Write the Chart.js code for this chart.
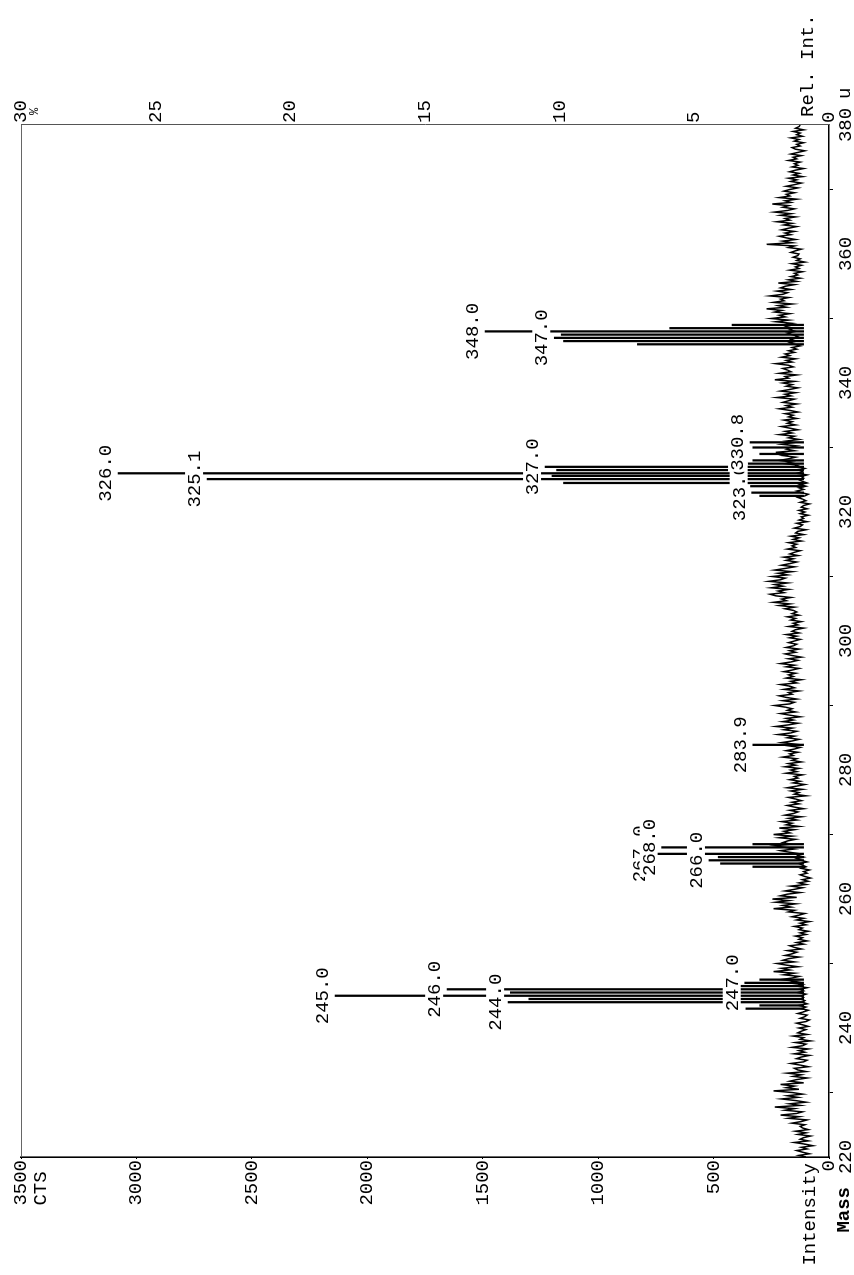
<!DOCTYPE html>
<html lang="en">
<head>
<meta charset="UTF-8">
<title>Mass spectrum</title>
<script src="https://cdn.jsdelivr.net/npm/chart.js@4.4.0/dist/chart.umd.min.js"></script>
<style>
  html, body { margin: 0; padding: 0; background: #fff; overflow: hidden; }
  /* chart is drawn landscape and turned a quarter turn to the left */
  #wrap { position: absolute; left: 0; top: 0; width: 1275px; height: 854px;
          transform-origin: 0 0; transform: translate(0, 1275px) rotate(-90deg); }
</style>
</head>
<body>
<div id="wrap"><canvas id="spec" width="1275" height="854"></canvas></div>
<script>
// baseline noise, one value every 0.25 u from 220 u (20 values per 5 u)
const massStart = 220, massStep = 0.25;
const noise = [
  100,130,85,115,140,95,120,70,105,150,90,125,110,80,135,100,145,90,115,125,
  105,160,120,95,175,130,210,140,115,190,150,235,125,170,100,145,205,135,180,115,
  160,240,130,185,150,210,110,170,140,95,155,120,180,100,135,150,90,125,165,110,
  95,140,120,85,150,105,130,90,160,115,100,145,80,125,110,155,95,135,120,100,
  130,90,115,140,100,85,125,105,95,135,110,90,120,100,130,95,115,105,125,110,
  120,100,135,110,125,95,140,115,175,140,210,160,130,195,150,240,170,205,135,185,
  225,150,200,175,130,190,160,140,180,120,150,170,110,140,95,130,115,145,100,125,
  90,130,115,150,100,125,85,140,110,160,130,105,175,150,240,165,200,145,230,175,
  245,140,210,180,125,190,150,115,165,100,130,90,115,80,105,125,95,110,85,120,
  100,115,130,95,120,140,110,135,125,170,210,150,190,235,165,200,180,145,215,160,
  240,170,195,150,215,130,185,160,205,140,175,120,190,155,135,170,110,150,180,130,
  160,120,145,175,100,150,130,165,115,180,140,105,155,125,170,135,150,115,185,140,
  165,130,190,145,175,120,160,140,200,155,170,135,185,150,125,175,145,205,160,130,
  180,150,220,165,140,195,160,230,175,135,200,155,185,125,170,210,145,180,160,190,
  235,170,150,200,140,185,215,160,175,130,195,150,170,210,140,165,120,185,155,175,
  145,195,160,130,185,150,210,165,135,175,120,160,190,145,170,130,185,155,140,175,
  150,125,170,140,185,130,160,145,110,175,135,155,120,165,145,180,130,160,140,155,
  190,150,215,170,240,185,205,165,230,255,195,220,175,250,200,235,180,260,210,190,
  245,180,220,160,235,190,150,205,170,140,185,155,195,135,170,150,125,180,145,160,
  140,175,120,155,130,165,110,145,135,100,150,125,115,140,95,130,110,120,90,125,
  105,130,95,120,110,85,125,100,115,135,105,90,120,140,110,130,100,125,95,115,
  130,110,120,95,140,115,125,105,150,135,190,160,215,175,145,200,165,230,150,185,
  170,140,205,155,185,130,175,150,215,160,190,135,170,205,145,180,160,195,140,175,
  155,190,135,170,215,160,185,140,200,175,150,225,165,190,145,210,170,135,185,160,
  200,150,235,175,190,140,215,165,180,200,155,175,230,160,185,145,205,170,190,150,
  175,140,160,125,150,170,140,165,150,135,160,180,145,170,155,185,200,160,230,175,
  250,190,215,170,235,205,270,185,220,160,240,195,210,175,255,200,180,225,165,210,
  190,150,220,140,175,125,165,135,150,115,170,130,145,120,160,105,140,125,155,135,
  130,165,145,120,175,150,270,160,200,145,185,215,165,190,150,205,175,140,195,160,
  225,170,190,145,210,165,235,180,150,200,175,245,165,190,140,215,170,185,150,195,
  170,135,185,150,120,165,140,175,115,155,130,170,145,110,160,135,150,125,175,140,
  155,120,165,135,105,145,160,125,140,110,150,130,165,115,140,125,155,110,145,130,
  125
];

// peak sticks
const peakMass = [243.0, 243.5, 244.0, 244.5, 245.0, 245.5, 246.0, 246.5, 247.0, 247.5,
                  265.0, 265.5, 266.0, 266.5, 267.0, 268.0, 268.5, 283.9,
                  322.5, 323.0, 324.0, 324.5, 325.1, 325.6, 326.0, 326.5, 327.0, 327.5, 328.0, 329.0, 330.0, 330.8,
                  346.0, 346.5, 347.0, 347.5, 348.0, 348.5, 349.0];
const peakCounts = [360, 300, 1390, 1300, 2139, 1380, 1654, 390, 365, 300,
                    330, 470, 520, 480, 768, 725, 330, 330,
                    300, 335, 340, 1150, 2694, 1200, 3079, 1180, 1230, 350, 330, 300, 330, 342,
                    830, 1150, 1190, 1160, 1490, 690, 420];
const peakFoot = 110;

// labelled peaks, drawn in this order
const labelMass = [245.0, 246.0, 244.0, 247.0, 267.0, 268.0, 266.0, 283.9, 326.0, 325.1, 327.0, 323.0, 330.8, 348.0, 347.0];
const labelText = ['245.0', '246.0', '244.0', '247.0', '267.0', '268.0', '266.0', '283.9', '326.0', '325.1', '327.0', '323.0', '330.8', '348.0', '347.0'];

const massTicks = [220, 380, 20];
const countTicks = [0, 3500, 500];
const relTicks = [0, 30, 5];

const monoFont = "'Liberation Mono', 'DejaVu Sans Mono', monospace";
Chart.defaults.font.family = monoFont;
Chart.defaults.font.size = 19;
Chart.defaults.color = '#000';

const peakLabels = {
  id: 'peakLabels',
  afterDatasetsDraw(chart) {
    const { ctx, scales: { x, y } } = chart;
    ctx.save();
    ctx.font = '19px ' + monoFont;
    ctx.textAlign = 'center';
    ctx.textBaseline = 'alphabetic';
    labelMass.forEach((m, i) => {
      const k = peakMass.indexOf(m);
      const px = x.getPixelForValue(m);
      const py = y.getPixelForValue(peakCounts[k]) - 7;
      const w = ctx.measureText(labelText[i]).width;
      ctx.fillStyle = '#fff';
      ctx.fillRect(px - w / 2 - 1, py - 15, w + 2, 18);
      ctx.fillStyle = '#000';
      ctx.fillText(labelText[i], px, py);
    });
    ctx.restore();
  }
};

const extraText = {
  id: 'extraText',
  afterDraw(chart) {
    const { ctx, chartArea: a, scales: { x, y } } = chart;
    ctx.save();
    // thin frame on the far side
    ctx.strokeStyle = '#666';
    ctx.lineWidth = 1;
    ctx.beginPath();
    ctx.moveTo(a.left, a.top + 0.5);
    ctx.lineTo(a.right, a.top + 0.5);
    ctx.stroke();

    ctx.fillStyle = '#000';
    ctx.textBaseline = 'middle';
    ctx.font = '19px ' + monoFont;
    ctx.textAlign = 'left';
    const topW = ctx.measureText(String(countTicks[1])).width;
    ctx.fillText('CTS', a.left - 3 - topW, y.getPixelForValue(countTicks[1]) + 20);
    ctx.textAlign = 'right';
    ctx.fillText('Intensity', a.left - 6, a.bottom - 19);
    ctx.font = 'bold 19px ' + monoFont;
    ctx.fillText('Mass', a.left - 30, a.bottom + 15);
    ctx.font = '19px ' + monoFont;
    ctx.textAlign = 'left';
    ctx.fillText('u', x.getPixelForValue(massTicks[1]) + 26, a.bottom + 16);
    ctx.fillText('Rel. Int.', a.right + 8, a.bottom - 21);
    ctx.font = '12px ' + monoFont;
    ctx.fillText('%', a.right + 10, a.top + 14);
    ctx.restore();
  }
};

new Chart(document.getElementById('spec'), {
  data: {
    datasets: [{
      type: 'line',
      data: noise.map((v, i) => ({ x: massStart + i * massStep, y: v })),
      borderColor: '#000',
      borderWidth: 1.5,
      pointRadius: 0,
      tension: 0,
      order: 2
    }, {
      type: 'bar',
      data: peakMass.map((m, i) => ({ x: m, y: [peakFoot, peakCounts[i]] })),
      backgroundColor: '#000',
      barThickness: 1.6,
      grouped: false,
      order: 1
    }]
  },
  options: {
    responsive: false,
    animation: false,
    events: [],
    layout: { padding: { top: 21, left: 0, right: 0, bottom: 0 } },
    plugins: { legend: { display: false }, tooltip: { enabled: false } },
    scales: {
      x: {
        type: 'linear', min: massTicks[0], max: massTicks[1], offset: false,
        afterFit(s) { s.height = 25; },
        ticks: { stepSize: massTicks[2], maxRotation: 0, autoSkip: false, padding: 2, callback: v => String(v) },
        grid: { drawOnChartArea: false, tickLength: 4, color: '#000' },
        border: { color: '#000', width: 1.6 }
      },
      y: {
        type: 'linear', position: 'left', min: countTicks[0], max: countTicks[1],
        afterFit(s) { s.width = 118; },
        ticks: { stepSize: countTicks[2], padding: 1, callback: v => String(v) },
        grid: { drawOnChartArea: false, tickLength: 2, color: '#000' },
        border: { color: '#000', width: 1.6 }
      },
      y1: {
        type: 'linear', position: 'right', min: relTicks[0], max: relTicks[1],
        afterFit(s) { s.width = 125; },
        ticks: { stepSize: relTicks[2], padding: 2, callback: v => String(v) },
        grid: { drawOnChartArea: false, drawTicks: false },
        border: { color: '#555', width: 1 }
      }
    }
  },
  plugins: [peakLabels, extraText]
});
</script>
</body>
</html>
